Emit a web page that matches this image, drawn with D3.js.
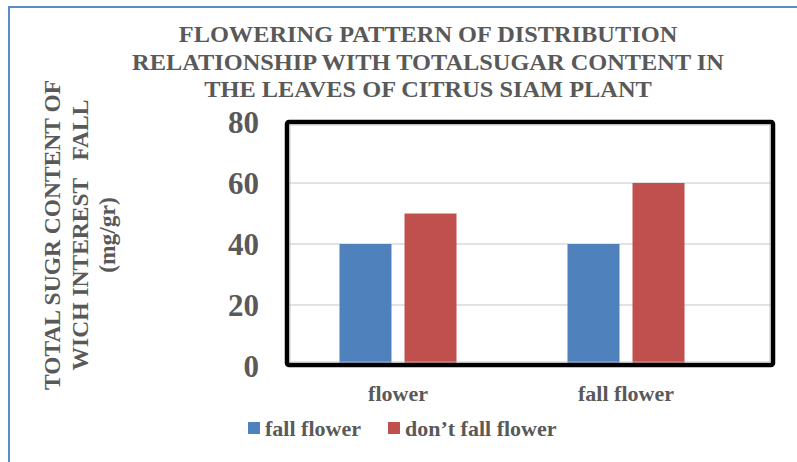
<!DOCTYPE html>
<html>
<head>
<meta charset="utf-8">
<script src="https://cdn.jsdelivr.net/npm/d3@7"></script>
<style>
  html, body { margin: 0; padding: 0; background: #fff; }
  svg { display: block; }
  text { font-family: "Liberation Serif", "Times New Roman", serif; font-weight: bold; fill: #595959; white-space: pre; }
</style>
</head>
<body>
<script>
// Chart data
const categories = ["flower", "fall flower"];
const seriesNames = ["fall flower", "don\u2019t fall flower"];
const seriesColors = ["#4F81BD", "#C0504D"];
const fallFlower = [40, 40];
const dontFallFlower = [50, 60];
const yTicks = [0, 20, 40, 60, 80];
const titleLines = [
  "FLOWERING PATTERN OF DISTRIBUTION",
  "RELATIONSHIP WITH TOTALSUGAR CONTENT IN",
  "THE LEAVES OF CITRUS SIAM PLANT"
];
const yTitleLines = ["TOTAL SUGR CONTENT OF", "WICH INTEREST   FALL", "(mg/gr)"];

const W = 797, H = 462;
const svg = d3.select("body").append("svg").attr("width", W).attr("height", H);

// Outer chart border
svg.append("rect")
  .attr("x", 9).attr("y", 7).attr("width", W + 20).attr("height", H + 20)
  .attr("fill", "none").attr("stroke", "#5B8BCB").attr("stroke-width", 2);

// Scales
const y = d3.scaleLinear().domain([0, 80]).range([366, 122]);
const x0 = d3.scaleBand().domain(categories).range([284, 740]);
const x1 = d3.scaleBand().domain(seriesNames).range([0, 117]).paddingInner(0.2);

// Gridlines
svg.append("g").selectAll("line")
  .data(yTicks.filter(d => d > 0 && d < 80))
  .join("line")
  .attr("x1", 287).attr("x2", 773)
  .attr("y1", d => y(d)).attr("y2", d => y(d))
  .attr("stroke", "#D9D9D9").attr("stroke-width", 1.3);

// Bars
const rows = categories.map((c, i) => ({ cat: c, values: [fallFlower[i], dontFallFlower[i]] }));
const groups = svg.append("g").selectAll("g")
  .data(rows).join("g")
  .attr("transform", d => `translate(${x0(d.cat) + x0.bandwidth() / 2 - 58.5},0)`);
groups.selectAll("rect")
  .data(d => d.values.map((v, j) => ({ name: seriesNames[j], v, j })))
  .join("rect")
  .attr("x", d => x1(d.name))
  .attr("width", x1.bandwidth())
  .attr("y", d => y(d.v))
  .attr("height", d => y(0) - y(d.v))
  .attr("fill", d => seriesColors[d.j]);

// Plot frame
svg.append("rect")
  .attr("x", 287).attr("y", 122).attr("width", 486).attr("height", 243)
  .attr("rx", 2)
  .attr("fill", "none").attr("stroke", "#000").attr("stroke-width", 4.5);
svg.append("rect")
  .attr("x", 290).attr("y", 125).attr("width", 480).attr("height", 237)
  .attr("fill", "none").attr("stroke", "#bbb").attr("stroke-width", 0.8);

// Y axis labels
const yAxis = d3.axisLeft(y).tickValues(yTicks).tickSize(0).tickPadding(0);
const yg = svg.append("g").attr("transform", "translate(259,0)").call(yAxis);
yg.select(".domain").remove();
yg.selectAll("text")
  .attr("font-size", 31).attr("fill", "#595959")
  .attr("font-family", "Liberation Serif, serif").attr("font-weight", "bold")
  .attr("dy", "0.34em");

// X axis labels
const xAxis = d3.axisBottom(x0).tickSize(0).tickPadding(0);
const xg = svg.append("g").attr("transform", "translate(0,385)").call(xAxis);
xg.select(".domain").remove();
xg.selectAll("text")
  .attr("font-size", 22).attr("fill", "#595959")
  .attr("font-family", "Liberation Serif, serif").attr("font-weight", "bold")
  .attr("dy", "0.71em");

// Title
svg.append("g").selectAll("text")
  .data(titleLines).join("text")
  .attr("transform", (d, i) => `translate(428,${42 + i * 27.5}) scale(1.06,1)`)
  .attr("text-anchor", "middle").attr("font-size", 23)
  .text(d => d);

// Y axis title (rotated)
svg.append("g").selectAll("text")
  .data(yTitleLines).join("text")
  .attr("transform", (d, i) => `translate(${60 + i * 27.5},235) rotate(-90)`)
  .attr("text-anchor", "middle")
  .attr("font-size", 23.5)
  .text(d => d);

// Legend
const legend = svg.append("g");
const legendX = [248, 388];
seriesNames.forEach((n, i) => {
  legend.append("rect")
    .attr("x", legendX[i]).attr("y", 422).attr("width", 12).attr("height", 12)
    .attr("fill", seriesColors[i]);
  legend.append("text")
    .attr("x", legendX[i] + 17).attr("y", 436)
    .attr("font-size", 22)
    .text(n);
});
</script>
</body>
</html>
